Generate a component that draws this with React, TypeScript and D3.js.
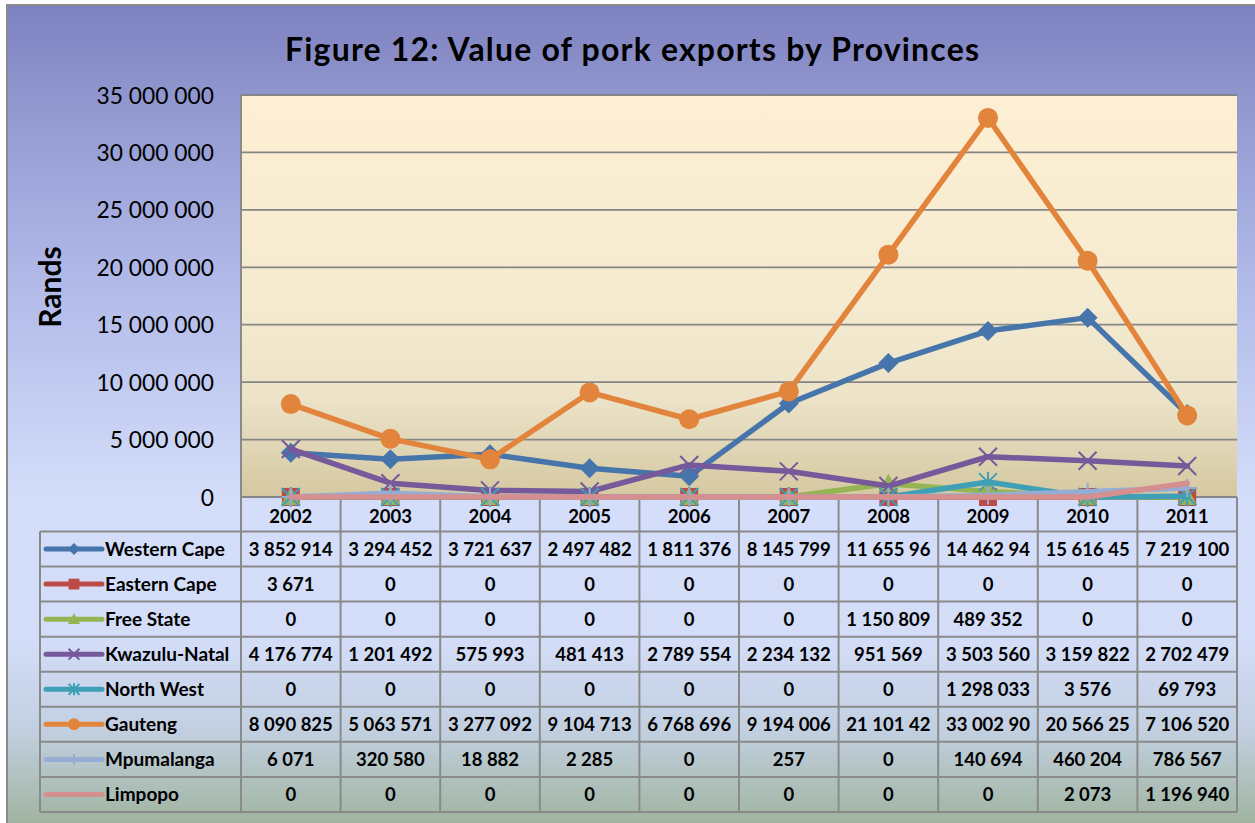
import React from 'react';
import * as d3 from 'd3';

const years = ['2002', '2003', '2004', '2005', '2006', '2007', '2008', '2009', '2010', '2011'];
const westernCape = [3852914, 3294452, 3721637, 2497482, 1811376, 8145799, 11655960, 14462940, 15616450, 7219100];
const easternCape = [3671, 0, 0, 0, 0, 0, 0, 0, 0, 0];
const freeState = [0, 0, 0, 0, 0, 0, 1150809, 489352, 0, 0];
const kwazuluNatal = [4176774, 1201492, 575993, 481413, 2789554, 2234132, 951569, 3503560, 3159822, 2702479];
const northWest = [0, 0, 0, 0, 0, 0, 0, 1298033, 3576, 69793];
const gauteng = [8090825, 5063571, 3277092, 9104713, 6768696, 9194006, 21101420, 33002900, 20566250, 7106520];
const mpumalanga = [6071, 320580, 18882, 2285, 0, 257, 0, 140694, 460204, 786567];
const limpopo = [0, 0, 0, 0, 0, 0, 0, 0, 2073, 1196940];
const yTicks = [0, 5000000, 10000000, 15000000, 20000000, 25000000, 30000000, 35000000];

const title = 'Figure 12: Value of pork exports by Provinces';
const yTitle = 'Rands';

type Marker = 'diamond' | 'square' | 'triangle' | 'x' | 'star' | 'circle' | 'plus' | 'none';
const series: { name: string; values: number[]; color: string; marker: Marker }[] = [
  { name: 'Western Cape', values: westernCape, color: '#4675AC', marker: 'diamond' },
  { name: 'Eastern Cape', values: easternCape, color: '#BC4A47', marker: 'square' },
  { name: 'Free State', values: freeState, color: '#95B555', marker: 'triangle' },
  { name: 'Kwazulu-Natal', values: kwazuluNatal, color: '#76599A', marker: 'x' },
  { name: 'North West', values: northWest, color: '#3E9FB7', marker: 'star' },
  { name: 'Gauteng', values: gauteng, color: '#E2843B', marker: 'circle' },
  { name: 'Mpumalanga', values: mpumalanga, color: '#95ADD4', marker: 'plus' },
  { name: 'Limpopo', values: limpopo, color: '#D58F8E', marker: 'none' },
];

const FONT = 'Lato, "Open Sans", sans-serif';
const plot = { left: 241, right: 1237, top: 95, bottom: 497 };
const table = { left: 40, top: 531.5, rowH: 35.06 };
const gridColor = '#868686';

function fmtCell(v: number): string {
  const s = d3.format(',')(v).replace(/,/g, ' ');
  return s.length > 9 ? s.slice(0, 9) : s;
}

function MarkerShape({ type, cx, cy, color, s }: { type: Marker; cx: number; cy: number; color: string; s: number }) {
  const t = `translate(${cx},${cy})`;
  switch (type) {
    case 'diamond':
      return <path transform={t} d={`M0,${-s}L${s},0L0,${s}L${-s},0Z`} fill={color} />;
    case 'square':
      return <rect transform={t} x={-s * 0.9} y={-s * 0.9} width={s * 1.8} height={s * 1.8} fill={color} />;
    case 'triangle':
      return <path transform={t} d={`M0,${-s}L${s},${s * 0.8}L${-s},${s * 0.8}Z`} fill={color} />;
    case 'x':
      return (
        <path transform={t} d={`M${-s * 0.9},${-s * 0.9}L${s * 0.9},${s * 0.9}M${-s * 0.9},${s * 0.9}L${s * 0.9},${-s * 0.9}`}
          stroke={color} strokeWidth={2} fill="none" />
      );
    case 'star':
      return (
        <path transform={t} d={`M${-s * 0.9},${-s * 0.9}L${s * 0.9},${s * 0.9}M${-s * 0.9},${s * 0.9}L${s * 0.9},${-s * 0.9}M0,${-s}L0,${s}`}
          stroke={color} strokeWidth={2} fill="none" />
      );
    case 'circle':
      return <circle cx={cx} cy={cy} r={s} fill={color} />;
    case 'plus':
      return <path transform={t} d={`M0,${-s * 0.9}L0,${s * 0.9}M${-s * 0.9},0L${s * 0.9},0`} stroke={color} strokeWidth={2} fill="none" />;
    default:
      return null;
  }
}

export default function App() {
  const x = d3.scaleBand<string>().domain(years).range([plot.left, plot.right]);
  const y = d3.scaleLinear().domain([0, 35000000]).range([plot.bottom, plot.top]);
  const cxOf = (i: number) => (x(years[i]) as number) + x.bandwidth() / 2;
  const line = d3.line<number>().x((_, i) => cxOf(i)).y((d) => y(d));
  const tableBottom = table.top + table.rowH * series.length;
  const colEdges = years.map((yr) => x(yr) as number).concat([plot.right]);

  return (
    <svg width={1255} height={823} style={{ position: 'absolute', left: 0, top: 0, display: 'block' }} fontFamily={FONT}>
      <defs>
        <linearGradient id="bg" gradientUnits="userSpaceOnUse" x1={0} y1={5} x2={0} y2={830}>
          <stop offset="0" stopColor="#7D81C1" />
          <stop offset="0.12" stopColor="#9298CF" />
          <stop offset="0.32" stopColor="#AFB7E7" />
          <stop offset="0.6" stopColor="#D4DEFA" />
          <stop offset="0.77" stopColor="#D3DDF8" />
          <stop offset="0.88" stopColor="#C2CFE0" />
          <stop offset="1" stopColor="#9DB29B" />
        </linearGradient>
        <linearGradient id="plotbg" gradientUnits="userSpaceOnUse" x1={0} y1={plot.top} x2={0} y2={plot.bottom}>
          <stop offset="0" stopColor="#FDEFD2" />
          <stop offset="0.5" stopColor="#F5EBD1" />
          <stop offset="0.75" stopColor="#ECE3C9" />
          <stop offset="1" stopColor="#D5C8A1" />
        </linearGradient>
      </defs>

      <rect x={7} y={5} width={1270} height={840} fill="url(#bg)" stroke="#8C8C8C" strokeWidth={2} />

      <text x={632} y={61} textAnchor="middle" fontWeight={700} fontSize={32} textLength={694} lengthAdjust="spacing" fill="#000">{title}</text>

      <rect x={plot.left} y={plot.top} width={plot.right - plot.left} height={plot.bottom - plot.top} fill="url(#plotbg)" />

      {yTicks.map((t) => (
        <g key={t}>
          <line x1={plot.left} x2={plot.right} y1={y(t)} y2={y(t)} stroke={gridColor} strokeWidth={1.8} />
          <text x={214} y={y(t) + 8.5} textAnchor="end" fontSize={22.8} fill="#000">
            {d3.format(',')(t).replace(/,/g, ' ')}
          </text>
        </g>
      ))}

      <text transform={`translate(61,287) rotate(-90)`} textAnchor="middle" fontWeight={700} fontSize={30} fill="#000">{yTitle}</text>

      {/* table grid */}
      <g stroke="#8A8A8A" strokeWidth={2} fill="none">
        <line x1={plot.left} x2={plot.left} y1={plot.top} y2={tableBottom} />
        {colEdges.slice(1).map((cx, i) => (
          <line key={i} x1={cx} x2={cx} y1={plot.bottom} y2={tableBottom} />
        ))}
        <line x1={table.left} x2={table.left} y1={table.top} y2={tableBottom} />
        {series.map((_, i) => (
          <line key={'h' + i} x1={table.left} x2={plot.right} y1={table.top + table.rowH * i} y2={table.top + table.rowH * i} />
        ))}
        <line x1={table.left} x2={plot.right} y1={tableBottom} y2={tableBottom} />
      </g>

      {years.map((yr, i) => (
        <text key={yr} x={cxOf(i)} y={523} textAnchor="middle" fontWeight={700} fontSize={18.5} fill="#000">{yr}</text>
      ))}

      {series.map((s, r) => {
        const cy = table.top + table.rowH * (r + 0.5);
        return (
          <g key={s.name}>
            <line x1={46} x2={102} y1={cy} y2={cy} stroke={s.color} strokeWidth={5} strokeLinecap="round" />
            <MarkerShape type={s.marker} cx={74} cy={cy} color={s.color} s={6} />
            <text x={105} y={cy + 6.8} fontWeight={700} fontSize={19} fill="#000">{s.name}</text>
            {s.values.map((v, i) => (
              <text key={i} x={cxOf(i)} y={cy + 6.8} textAnchor="middle" fontWeight={700} fontSize={18.5} fill="#000">
                {fmtCell(v)}
              </text>
            ))}
          </g>
        );
      })}

      {/* series lines and markers */}
      {series.map((s) => (
        <g key={s.name}>
          <path d={line(s.values) as string} fill="none" stroke={s.color} strokeWidth={5.5} strokeLinejoin="round" strokeLinecap="round" />
          {s.values.map((v, i) => (
            <MarkerShape key={i} type={s.marker} cx={cxOf(i)} cy={y(v)} color={s.color} s={10} />
          ))}
        </g>
      ))}
    </svg>
  );
}
